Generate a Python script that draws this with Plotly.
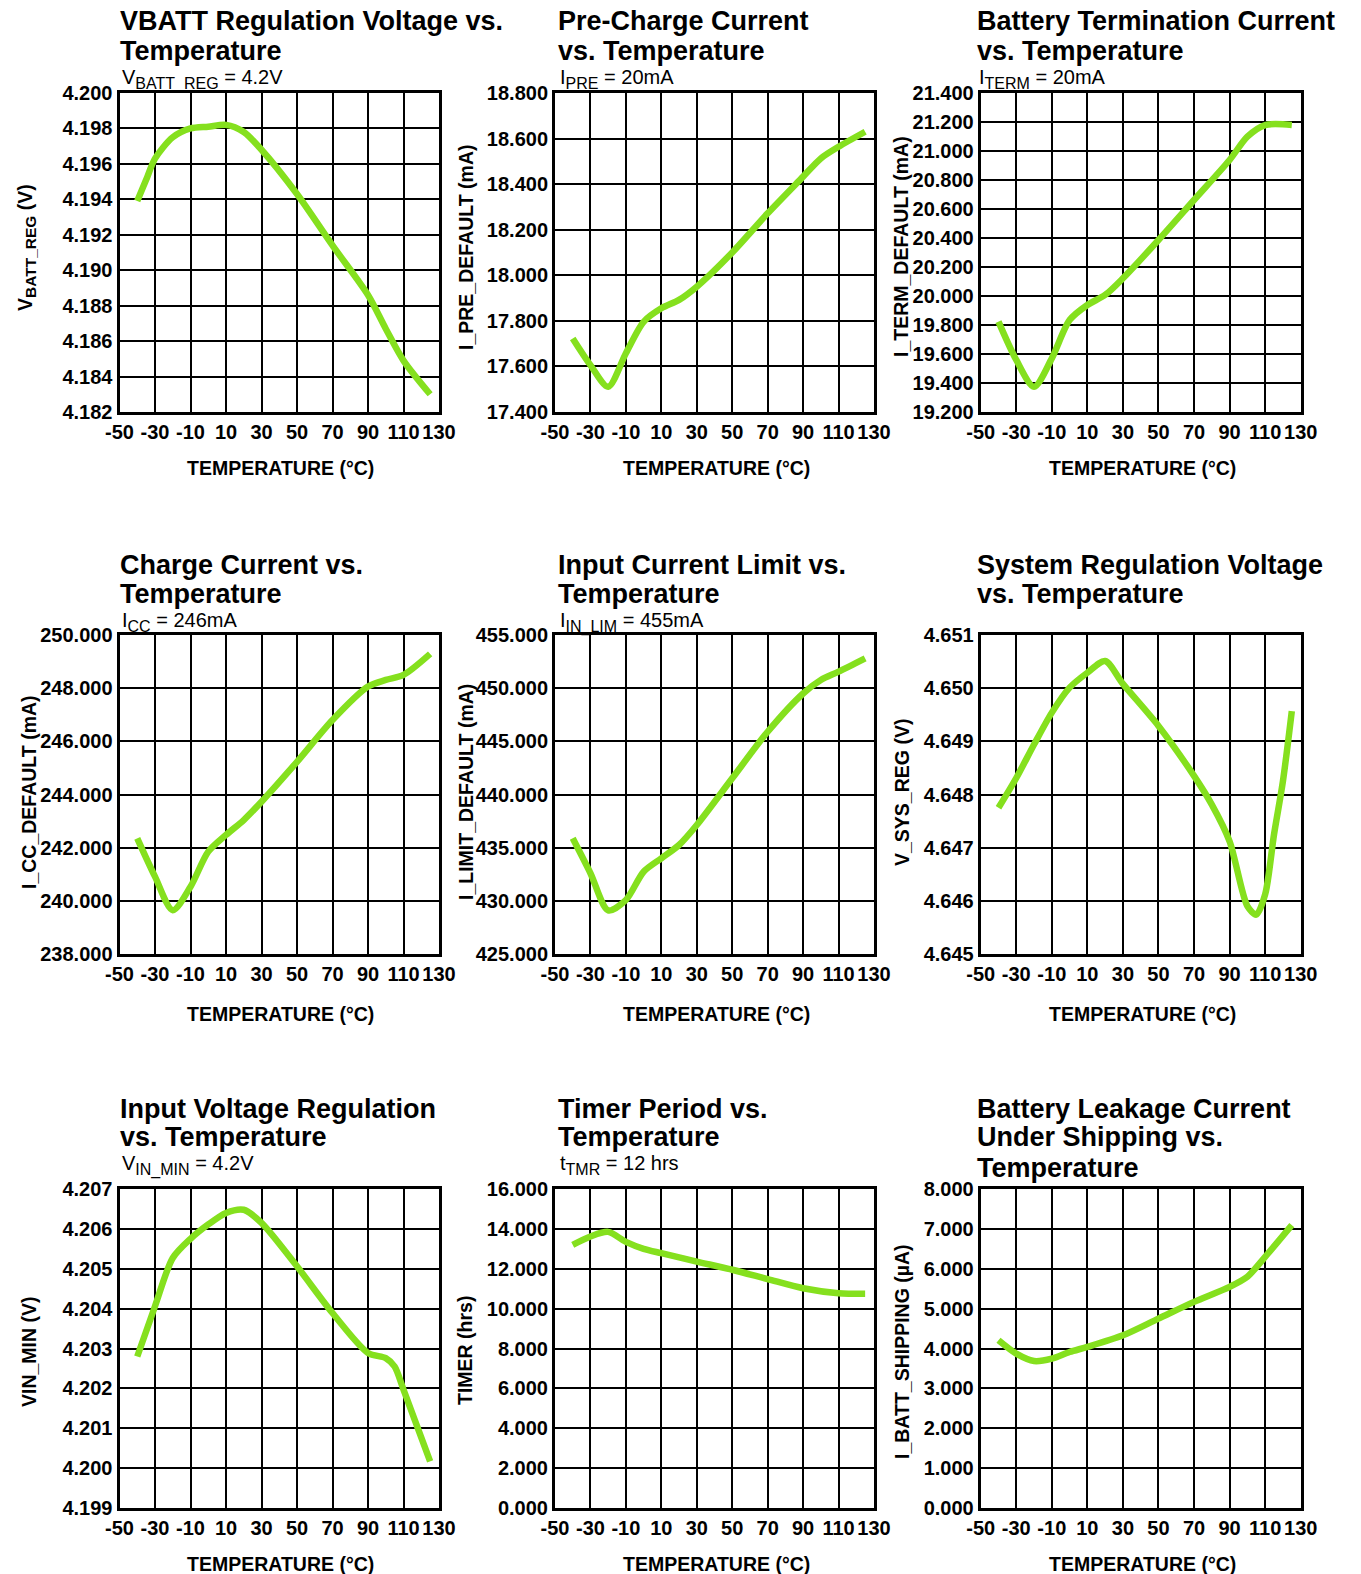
import plotly.graph_objects as go

# ---------------- data ----------------
X_TICKS = [-50, -30, -10, 10, 30, 50, 70, 90, 110, 130]
X_TICK_LABELS = [str(v) for v in X_TICKS]

VBATT_T = [-40, -35, -30, -20, -10, 0, 10, 20, 30, 50, 70, 90, 100, 110, 125]
VBATT_V = [4.1939, 4.1951, 4.1963, 4.1975, 4.1980, 4.1981, 4.1982, 4.1978, 4.1968,
           4.1943, 4.1914, 4.1886, 4.1867, 4.1849, 4.1830]

IPRE_T = [-40, -30, -20, -10, 0, 10, 20, 30, 50, 70, 90, 100, 110, 125]
IPRE_MA = [17.723, 17.606, 17.511, 17.658, 17.796, 17.855, 17.892, 17.950, 18.100,
           18.272, 18.433, 18.513, 18.564, 18.630]

ITERM_T = [-40, -30, -20, -10, 0, 10, 20, 30, 50, 70, 90, 100, 110, 125]
ITERM_MA = [19.823, 19.559, 19.374, 19.570, 19.834, 19.938, 20.007, 20.122, 20.386,
            20.662, 20.938, 21.099, 21.179, 21.180]

ICC_T = [-40, -30, -20, -10, 0, 10, 20, 30, 50, 70, 90, 100, 110, 125]
ICC_MA = [242.35, 240.91, 239.65, 240.53, 241.85, 242.48, 243.04, 243.73, 245.23,
          246.80, 248.06, 248.31, 248.50, 249.29]

ILIM_T = [-40, -30, -20, -10, 0, 10, 20, 30, 50, 70, 90, 100, 110, 125]
ILIM_MA = [435.88, 432.60, 429.10, 430.08, 432.74, 434.00, 435.25, 437.13, 441.52,
           445.90, 449.50, 450.77, 451.55, 452.80]

VSYS_T = [-40, -30, -20, -10, 0, 10, 20, 30, 50, 70, 80, 90, 100, 105, 110, 115, 120, 125]
VSYS_V = [4.64775, 4.64831, 4.64894, 4.64954, 4.65001, 4.65029, 4.65051, 4.65008,
          4.64929, 4.64835, 4.64781, 4.64712, 4.64590, 4.64574, 4.64612, 4.64725,
          4.64825, 4.64957]

VIN_T = [-40, -30, -20, -10, 0, 10, 20, 30, 50, 70, 90, 100, 105, 110, 125]
VIN_V = [4.20280, 4.20406, 4.20527, 4.20575, 4.20611, 4.20640, 4.20648, 4.20615,
         4.20506, 4.20389, 4.20289, 4.20276, 4.20255, 4.20197, 4.20017]

TMR_T = [-40, -30, -20, -10, 0, 10, 30, 50, 70, 90, 110, 125]
TMR_H = [13.20, 13.62, 13.85, 13.35, 13.00, 12.78, 12.36, 11.95, 11.48, 11.02, 10.77, 10.74]

ISHIP_T = [-40, -30, -20, -10, 0, 10, 30, 50, 70, 90, 100, 110, 125]
ISHIP_UA = [4.205, 3.870, 3.686, 3.745, 3.912, 4.040, 4.330, 4.750, 5.170, 5.546,
            5.800, 6.300, 7.095]


def sub(s, size=16, shift=-5):
    return f"<span style='font-size:{size}px;baseline-shift:{shift}px'>{s}</span>"


PANELS = [
    dict(title=["VBATT Regulation Voltage vs.", "Temperature"],
         sub="V" + sub("BATT_REG") + " = 4.2V",
         ytitle="V" + sub("BATT_REG", 15.5, -4) + " (V)",
         x=VBATT_T, y=VBATT_V, yrange=[4.182, 4.200], dtick=0.002),
    dict(title=["Pre-Charge Current", "vs. Temperature"],
         sub="I" + sub("PRE") + " = 20mA", ytitle="I_PRE_DEFAULT (mA)",
         x=IPRE_T, y=IPRE_MA, yrange=[17.4, 18.8], dtick=0.2),
    dict(title=["Battery Termination Current", "vs. Temperature"],
         sub="I" + sub("TERM") + " = 20mA", ytitle="I_TERM_DEFAULT (mA)",
         x=ITERM_T, y=ITERM_MA, yrange=[19.2, 21.4], dtick=0.2),
    dict(title=["Charge Current vs.", "Temperature"],
         sub="I" + sub("CC") + " = 246mA", ytitle="I_CC_DEFAULT (mA)",
         x=ICC_T, y=ICC_MA, yrange=[238, 250], dtick=2),
    dict(title=["Input Current Limit vs.", "Temperature"],
         sub="I" + sub("IN_LIM") + " = 455mA", ytitle="I_LIMIT_DEFAULT (mA)",
         x=ILIM_T, y=ILIM_MA, yrange=[425, 455], dtick=5),
    dict(title=["System Regulation Voltage", "vs. Temperature"],
         sub=None, ytitle="V_SYS_REG (V)",
         x=VSYS_T, y=VSYS_V, yrange=[4.645, 4.651], dtick=0.001),
    dict(title=["Input Voltage Regulation", "vs. Temperature"],
         sub="V" + sub("IN_MIN") + " = 4.2V", ytitle="VIN_MIN (V)",
         x=VIN_T, y=VIN_V, yrange=[4.199, 4.207], dtick=0.001),
    dict(title=["Timer Period vs.", "Temperature"],
         sub="t" + sub("TMR") + " = 12 hrs", ytitle="TIMER (hrs)",
         x=TMR_T, y=TMR_H, yrange=[0, 16], dtick=2),
    dict(title=["Battery Leakage Current", "Under Shipping vs.", "Temperature"],
         sub=None, ytitle="I_BATT_SHIPPING (µA)",
         x=ISHIP_T, y=ISHIP_UA, yrange=[0, 8], dtick=1),
]

# ---------------- layout (pixels) ----------------
W, H = 1361, 1574
COLS = [(119.5, 439.0), (555.0, 874.0), (980.7, 1300.7)]
ROWS = [(93.0, 412.0), (635.0, 954.0), (1189.0, 1508.0)]
TITLE_X = [118, 556, 975]
TITLE_BASE = [[29.5, 59.0], [573.0, 602.0], [1117.0, 1145.0]]
TITLE3_BASE = 1176.0
SUB_BASE = [83.0, 626.0, 1169.0]
XTITLE_Y = [467.5, 1014.0, 1564.0]
YTITLE_POS = [(26, 248), (466, 247), (901, 247),
              (29, 792), (466, 792), (902, 793),
              (29, 1352), (465, 1351), (902, 1352)]

FONT = "Liberation Sans, Arial, Helvetica, sans-serif"
GREEN = "#85E01E"
TITLE_FS = 27
SUB_FS = 20
TICK_FS = 20
AXT_FS = 19.5


def px_x(p):
    return p / W


def px_y(p):
    return 1 - p / H


def top_from_base(base, fs):
    return px_y(base - 0.905 * fs - 1)


fig = go.Figure()
annotations = []
layout = dict(width=W, height=H, margin=dict(l=0, r=0, t=0, b=0, pad=0),
              autosize=False,
              paper_bgcolor="white", plot_bgcolor="white", showlegend=False,
              font=dict(family=FONT, color="black"))

for i, p in enumerate(PANELS):
    r, c = divmod(i, 3)
    n = i + 1
    xa = "x" if n == 1 else f"x{n}"
    ya = "y" if n == 1 else f"y{n}"
    fig.add_trace(go.Scatter(
        x=p["x"], y=p["y"], mode="lines", xaxis=xa, yaxis=ya,
        line=dict(color=GREEN, width=6.5, shape="spline", smoothing=0.8),
        hoverinfo="skip"))

    common = dict(showgrid=True, gridcolor="black", gridwidth=1.5,
                  showline=True, linecolor="black", linewidth=3, mirror=True,
                  ticks="", zeroline=False, fixedrange=True, automargin=False,
                  tickangle=0,
                  tickfont=dict(family=FONT, size=TICK_FS, color="black", weight="bold"))
    layout["xaxis" if n == 1 else f"xaxis{n}"] = dict(
        domain=[px_x(COLS[c][0]), px_x(COLS[c][1])],
        anchor=ya, range=[-50, 130], tickmode="array",
        tickvals=X_TICKS, ticktext=X_TICK_LABELS, ticklabelstandoff=0, **common)
    layout["yaxis" if n == 1 else f"yaxis{n}"] = dict(
        domain=[px_y(ROWS[r][1]), px_y(ROWS[r][0])],
        anchor=xa, range=p["yrange"], tick0=p["yrange"][0], dtick=p["dtick"],
        tickformat=".3f", ticklabelstandoff=0, **common)

    # title lines
    bases = list(TITLE_BASE[r])
    if len(p["title"]) == 3:
        bases.append(TITLE3_BASE)
    for line, b in zip(p["title"], bases):
        annotations.append(dict(
            text=line, xref="paper", yref="paper", x=px_x(TITLE_X[c]),
            y=top_from_base(b, TITLE_FS), xanchor="left", yanchor="top",
            showarrow=False, font=dict(family=FONT, size=TITLE_FS, color="black",
                                       weight="bold")))
    if p["sub"]:
        annotations.append(dict(
            text=p["sub"], xref="paper", yref="paper", x=px_x(TITLE_X[c] + 2),
            y=top_from_base(SUB_BASE[r], SUB_FS), xanchor="left", yanchor="top",
            showarrow=False, font=dict(family=FONT, size=SUB_FS, color="black")))
    # x-axis title
    annotations.append(dict(
        text="TEMPERATURE (°C)", xref="paper", yref="paper",
        x=px_x((COLS[c][0] + COLS[c][1]) / 2 + 1.5), y=px_y(XTITLE_Y[r]),
        xanchor="center", yanchor="middle", showarrow=False,
        font=dict(family=FONT, size=AXT_FS, color="black", weight="bold")))
    # y-axis title
    yx, yy = YTITLE_POS[i]
    annotations.append(dict(
        text=p["ytitle"], xref="paper", yref="paper", x=px_x(yx), y=px_y(yy),
        xanchor="center", yanchor="middle", textangle=-90, showarrow=False,
        font=dict(family=FONT, size=AXT_FS, color="black", weight="bold")))

layout["annotations"] = annotations
fig.update_layout(**layout)

fig.write_html("out.html", config={"displayModeBar": False},
               post_script="document.body.style.margin='0';document.body.style.overflow='hidden';")
